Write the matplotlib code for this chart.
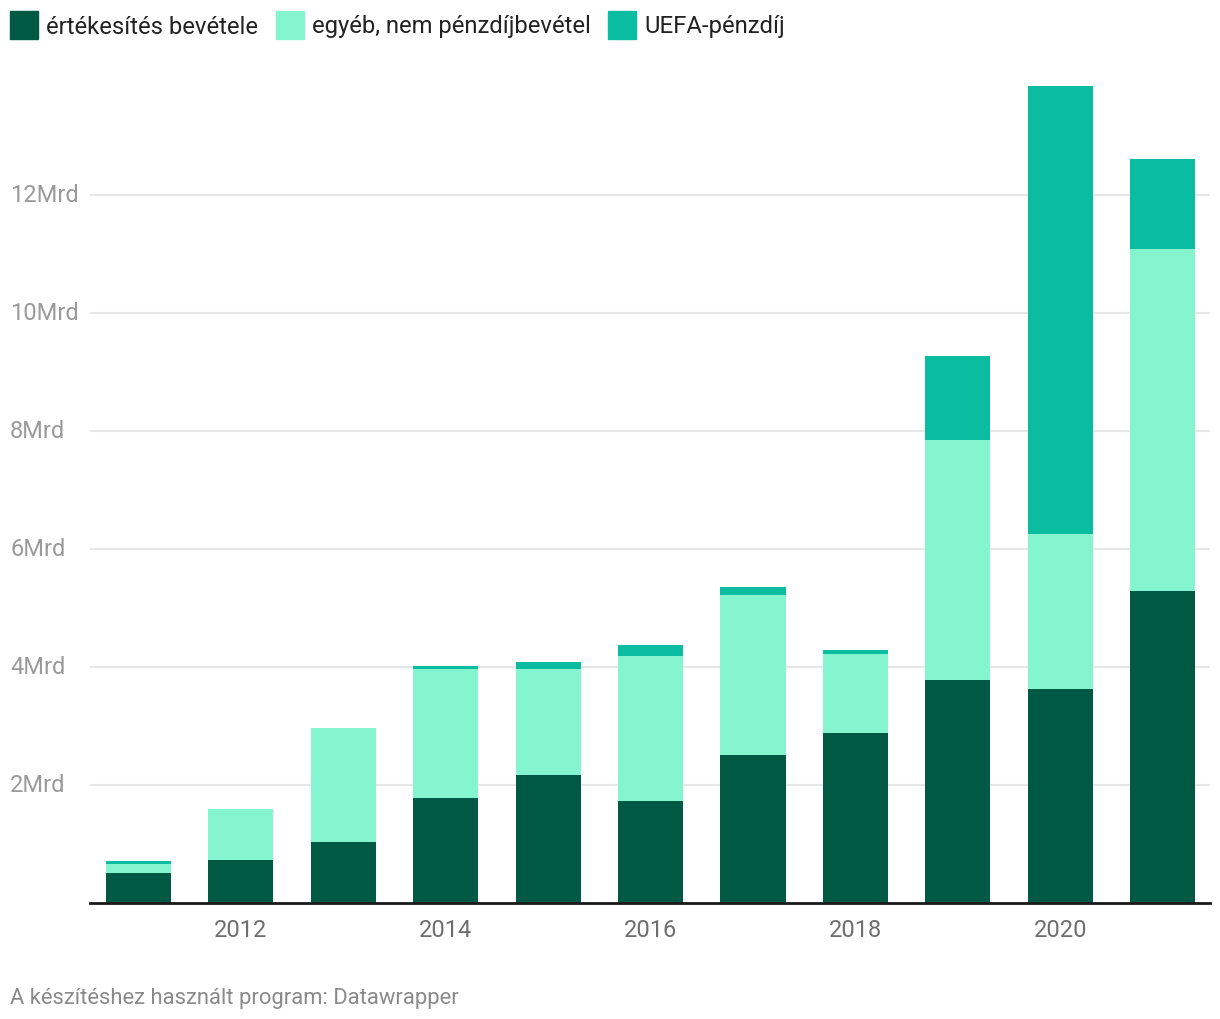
# stacked bar chart - revenue sources per year (Mrd)

import matplotlib
matplotlib.use("Agg")
import matplotlib.pyplot as plt
from matplotlib.patches import Rectangle

plt.rcParams['font.family'] = ['Roboto', 'DejaVu Sans']

years = [2011, 2012, 2013, 2014, 2015, 2016, 2017, 2018, 2019, 2020, 2021]
ertekesites = [0.51, 0.73, 1.03, 1.78, 2.17, 1.73, 2.51, 2.88, 3.78, 3.63, 5.29]
egyeb = [0.15, 0.86, 1.94, 2.19, 1.80, 2.46, 2.71, 1.34, 4.07, 2.62, 5.79]
uefa = [0.05, 0.0, 0.0, 0.05, 0.11, 0.18, 0.14, 0.07, 1.42, 7.60, 1.53]

series_names = ["értékesítés bevétele", "egyéb, nem pénzdíjbevétel", "UEFA-pénzdíj"]
colors = ["#005943", "#85f5d0", "#0bbda0"]

y_ticks = [2, 4, 6, 8, 10, 12]
y_labels = ["2Mrd", "4Mrd", "6Mrd", "8Mrd", "10Mrd", "12Mrd"]
x_ticks = [2012, 2014, 2016, 2018, 2020]
footer = "A készítéshez használt program: Datawrapper"

W, H = 1220, 1020
fig = plt.figure(figsize=(W / 100, H / 100), dpi=100)
ax = fig.add_axes([90 / W, 1 - 904 / H, 1120 / W, (904 - 78) / H])

bottom2 = [a + b for a, b in zip(ertekesites, egyeb)]
ax.bar(years, ertekesites, width=0.635, color=colors[0], zorder=3)
ax.bar(years, egyeb, width=0.635, bottom=ertekesites, color=colors[1], zorder=3)
ax.bar(years, uefa, width=0.635, bottom=bottom2, color=colors[2], zorder=3)

ax.set_xlim(2011 - 0.47, 2021 + 0.46)
ax.set_ylim(0, 14)

for s in ["top", "right", "left"]:
    ax.spines[s].set_visible(False)
ax.spines["bottom"].set_color("#1a1a1a")
ax.spines["bottom"].set_linewidth(2)
ax.spines["bottom"].set_zorder(4)

ax.set_yticks([])
for v in y_ticks:
    ax.axhline(v, color="#e6e6e6", lw=1.5, zorder=1)

# y labels at the far left, centred on grid lines
for v, lab in zip(y_ticks, y_labels):
    yf = ax.transData.transform((0, v))[1] / H
    fig.text(10 / W, yf, lab, ha="left", va="center", fontsize=17, color="#9a9a9a")

ax.set_xticks(x_ticks)
ax.set_xticklabels([str(x) for x in x_ticks])
ax.tick_params(axis="x", length=0, pad=11, labelsize=17, labelcolor="#6e6e6e")

# legend
leg_x = [10, 276, 608]
for x0, name, c in zip(leg_x, series_names, colors):
    fig.patches.append(Rectangle((x0 / W, 1 - 40 / H), 28 / W, 28 / H,
                                 transform=fig.transFigure, color=c))
    fig.text((x0 + 36) / W, 1 - 27 / H, name, ha="left", va="center",
             fontsize=17.2, color="#222222")

fig.text(10 / W, 1 - 999 / H, footer, ha="left", va="center", fontsize=15.8, color="#8a8a8a")

fig.savefig("out.png", dpi=100)
